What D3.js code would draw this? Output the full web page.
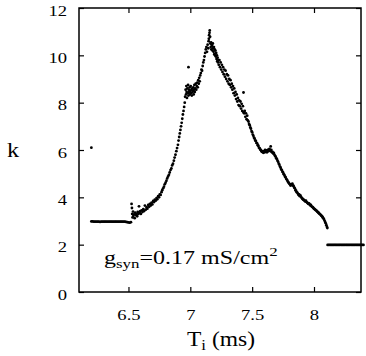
<!DOCTYPE html>
<html><head><meta charset="utf-8">
<script src="https://cdn.jsdelivr.net/npm/d3@7"></script>
<style>body{margin:0;background:#fff}svg{display:block}</style>
</head><body>
<script>
// ---- data ----
const xTicks = [6.5, 7, 7.5, 8];
const yTicks = [0, 2, 4, 6, 8, 10, 12];
const lowPlateauX = [6.20,6.21,6.22,6.23,6.24,6.25,6.26,6.27,6.28,6.29,6.30,6.31,6.32,6.33,6.34,6.35,6.36,6.37,6.38,6.39,6.40,6.41,6.42,6.43,6.44,6.45,6.46,6.47,6.48,6.49,6.50,6.51,6.52];
const lowPlateauY = [2.98,2.98,2.97,2.97,2.97,2.97,2.97,2.96,2.97,2.97,2.97,2.97,2.97,2.97,2.97,2.97,2.97,2.97,2.97,2.97,2.97,2.97,2.97,2.97,2.97,2.97,2.97,2.97,2.96,2.95,2.94,2.93,2.95];
const highPlateauX = [8.11,8.12,8.13,8.14,8.15,8.16,8.17,8.18,8.19,8.20,8.21,8.22,8.23,8.24,8.25,8.26,8.27,8.28,8.29,8.30,8.31,8.32,8.33,8.34,8.35,8.36,8.37,8.38,8.39,8.40];
const highPlateauY = [1.99,1.99,1.99,1.99,1.99,1.99,1.99,1.99,1.99,1.99,1.99,1.99,1.99,1.99,1.99,1.99,1.99,1.99,1.99,1.99,1.99,1.99,1.99,1.99,1.99,1.99,1.99,1.99,1.99,1.99];
const outlierX = [6.20, 6.985, 7.43, 7.65];
const outlierY = [6.10, 9.50, 8.43, 6.15];
const curveX = [
6.525,6.528,6.530,6.533,6.537,6.540,6.545,6.550,6.555,6.560,6.565,6.570,6.575,6.580,6.585,6.590,6.595,6.600,6.607,6.613,6.620,6.627,6.633,6.640,6.647,6.653,6.660,6.667,6.673,6.680,6.687,6.693,6.700,6.707,6.713,6.720,6.727,6.733,6.740,6.747,6.753,6.760,
6.767,6.773,6.780,6.787,6.793,6.800,6.807,6.813,6.820,6.827,6.833,6.840,6.847,6.853,6.860,6.867,6.873,6.880,6.887,6.893,6.900,6.905,6.910,6.915,6.920,6.925,6.930,6.935,6.940,6.945,6.950,6.955,
6.958,6.962,6.965,6.968,6.970,6.973,6.976,6.979,6.982,6.985,6.988,6.991,6.994,6.997,7.000,7.003,7.006,7.009,7.012,7.015,7.018,7.021,7.024,7.027,7.030,7.033,7.036,7.040,7.044,7.048,7.052,7.056,7.060,7.064,7.068,7.072,7.076,7.080,
7.085,7.090,7.095,7.100,7.105,7.110,7.115,7.120,7.125,7.130,7.135,7.140,7.145,7.148,7.150,7.152,7.155,7.157,7.160,
7.162,7.165,7.168,7.170,7.173,7.176,7.179,7.182,7.185,7.188,7.191,7.194,7.197,7.200,7.203,7.206,7.209,7.212,7.215,7.218,7.221,7.224,7.227,7.230,
7.235,7.240,7.245,7.250,7.255,7.260,7.265,7.270,7.275,7.280,7.285,7.290,7.295,7.300,7.305,7.310,7.315,7.320,7.325,7.330,7.335,7.340,7.345,7.350,7.355,7.360,7.365,7.370,7.375,7.380,7.385,7.390,7.395,7.400,7.405,7.410,7.415,7.420,7.425,7.430,7.435,7.440,7.445,7.450,7.455,7.460,7.465,7.470,7.475,7.480,7.485,7.490,7.495,7.500,7.505,7.510,7.515,7.520,7.525,7.530,7.535,7.540,7.545,7.550,7.555,7.560,7.565,7.570,7.575,7.580,7.585,7.590,7.595,7.600,7.605,7.610,7.615,7.620,7.625,7.630,7.635,7.640,7.645,7.650,7.655,7.660,7.665,7.670,7.675,7.680,7.685,7.690,7.695,7.700,7.705,7.710,7.715,7.720,7.725,7.730,7.735,7.740,7.745,7.750,7.755,7.760,7.765,7.770,7.775,7.780,7.785,7.790,7.795,7.800,7.805,7.810,7.815,7.820,7.825,7.830,7.835,7.840,7.845,7.850,7.855,7.860,7.865,7.870,7.875,7.880,7.885,7.890,7.895,7.900,7.905,7.910,7.915,7.920,7.925,7.930,7.935,7.940,7.945,7.950,7.955,7.960,7.965,7.970,7.975,7.980,7.985,7.990,7.995,8.000,8.005,8.010,8.015,8.020,8.025,8.030,8.035,8.040,8.045,8.050,8.055,8.060,8.065,8.070,8.075,8.080,8.085,8.090,8.095,8.100,8.105,8.108];
const curveY = [
3.72,3.55,3.30,3.15,3.40,3.22,3.28,3.12,3.35,3.25,3.30,3.20,3.38,3.30,3.62,3.35,3.42,3.30,3.45,3.38,3.50,3.42,3.65,3.48,3.58,3.52,3.68,3.60,3.72,3.65,3.78,3.70,3.85,3.80,3.90,3.86,3.97,3.92,4.05,4.00,4.12,4.10,
4.22,4.30,4.38,4.45,4.55,4.62,4.70,4.80,4.88,4.95,5.05,5.15,5.22,5.35,5.42,5.55,5.68,5.80,5.95,6.08,6.22,6.40,6.55,6.70,6.85,7.00,7.15,7.32,7.50,7.65,7.82,8.00,
8.25,8.55,8.35,8.70,8.45,8.20,8.60,8.40,8.75,8.30,8.55,8.45,8.65,8.35,8.50,8.70,8.40,8.55,8.30,8.60,8.45,8.50,8.65,8.35,8.55,8.75,8.45,8.60,8.80,8.55,8.70,8.85,8.65,8.95,8.80,9.05,8.90,9.15,
9.25,9.40,9.35,9.55,9.70,9.80,9.95,10.10,10.25,10.35,10.15,10.45,10.30,10.60,10.70,10.85,10.95,11.05,10.78,
10.50,10.35,10.55,10.25,10.45,10.40,10.20,10.50,10.30,10.15,10.35,10.05,10.25,10.00,10.20,9.95,10.10,9.85,10.00,9.75,9.90,9.70,9.80,9.60,
9.80,9.50,9.70,9.40,9.60,9.30,9.50,9.20,9.40,9.10,9.35,9.00,9.20,8.90,9.15,8.80,9.00,8.75,8.95,8.65,8.80,8.55,8.70,8.40,8.60,8.30,8.45,8.15,8.35,8.05,8.20,7.90,8.10,7.85,8.05,7.75,7.95,7.65,7.85,7.60,7.55,7.65,7.40,7.55,7.30,7.45,7.25,7.20,7.10,7.05,6.95,6.90,6.80,6.75,6.65,6.60,6.52,6.48,6.40,6.38,6.30,6.28,6.20,6.18,6.10,6.08,6.02,6.00,5.95,5.92,5.95,5.88,5.95,5.90,6.00,5.92,5.98,5.90,5.95,6.02,5.96,6.05,5.98,5.95,6.00,5.90,5.92,5.85,5.88,5.80,5.75,5.72,5.65,5.62,5.55,5.50,5.42,5.38,5.30,5.25,5.18,5.15,5.08,5.05,4.98,4.95,4.88,4.85,4.78,4.75,4.70,4.65,4.62,4.58,4.55,4.50,4.55,4.52,4.58,4.50,4.48,4.42,4.38,4.30,4.28,4.22,4.20,4.15,4.10,4.12,4.05,4.08,4.02,3.98,3.95,3.92,3.90,3.88,3.85,3.82,3.86,3.80,3.78,3.75,3.72,3.74,3.70,3.66,3.68,3.62,3.60,3.58,3.55,3.52,3.50,3.48,3.45,3.44,3.40,3.38,3.36,3.33,3.30,3.28,3.25,3.22,3.20,3.16,3.12,3.08,3.02,2.96,2.90,2.82,2.75,2.70];

// ---- layout ----
const W = 366, H = 356;
const L = 79, R = 361, T = 8, B = 292;
const FONT = "'Liberation Serif','Times New Roman',serif";
const SX = 1.2;

const x = d3.scaleLinear().domain([6.1, 8.38]).range([L, R]);
const y = d3.scaleLinear().domain([0, 12]).range([B, T]);

const svg = d3.select("body").append("svg").attr("width", W).attr("height", H);

// dots
const pts = [];
const add = (xs, ys) => xs.forEach((v, i) => pts.push([v, ys[i]]));
add(lowPlateauX, lowPlateauY);
add(curveX, curveY);
add(highPlateauX, highPlateauY);
add(outlierX, outlierY);
svg.append("g").selectAll("circle").data(pts).join("circle")
  .attr("cx", d => x(d[0])).attr("cy", d => y(d[1])).attr("r", 1.4).attr("fill", "#000");

// axes (inward ticks on all four sides)
function styleAxis(g) {
  g.select(".domain").remove();
  g.selectAll(".tick line").attr("stroke", "#000").attr("stroke-width", 1.2);
}
const gB = svg.append("g").attr("transform", `translate(0,${B})`)
  .call(d3.axisBottom(x).tickValues(xTicks).tickSize(-5).tickPadding(0).tickFormat(d3.format("")));
styleAxis(gB);
gB.selectAll(".tick text").attr("y", null).attr("dy", null)
  .attr("transform", `translate(0,28) scale(${SX},1)`)
  .attr("font-family", FONT).attr("font-size", 15.5).attr("fill", "#000").attr("text-anchor", "middle");

const gT = svg.append("g").attr("transform", `translate(0,${T})`)
  .call(d3.axisTop(x).tickValues(xTicks).tickSize(-5).tickFormat(""));
styleAxis(gT);

const gL = svg.append("g").attr("transform", `translate(${L},0)`)
  .call(d3.axisLeft(y).tickValues(yTicks).tickSize(-5).tickPadding(0).tickFormat(d3.format("")));
styleAxis(gL);
gL.selectAll(".tick text").attr("x", null).attr("dy", null)
  .attr("transform", `translate(-12,7) scale(${SX},1)`)
  .attr("font-family", FONT).attr("font-size", 15.5).attr("fill", "#000").attr("text-anchor", "end");

const gR = svg.append("g").attr("transform", `translate(${R},0)`)
  .call(d3.axisRight(y).tickValues(yTicks).tickSize(-5).tickFormat(""));
styleAxis(gR);

// frame
svg.append("rect").attr("x", L).attr("y", T).attr("width", R - L).attr("height", B - T)
  .attr("fill", "none").attr("stroke", "#000").attr("stroke-width", 1.5);

// axis titles
const xt = svg.append("text").attr("transform", `translate(221,346) scale(1.12,1)`)
  .attr("font-family", FONT).attr("font-size", 21).attr("text-anchor", "middle").attr("fill", "#000");
xt.append("tspan").text("T");
xt.append("tspan").attr("font-size", 15).attr("dy", 4).text("i");
xt.append("tspan").attr("dy", -4).text(" (ms)");

svg.append("text").attr("transform", `translate(13,157) scale(1.15,1)`)
  .attr("font-family", FONT).attr("font-size", 21).attr("text-anchor", "middle").attr("fill", "#000").text("k");

// annotation
const an = svg.append("text").attr("transform", `translate(104,264) scale(1.3,1)`)
  .attr("font-family", FONT).attr("font-size", 18.5).attr("fill", "#000");
an.append("tspan").text("g");
an.append("tspan").attr("font-size", 13).attr("dy", 4).text("syn");
an.append("tspan").attr("dy", -4).text("=0.17 mS/cm");
an.append("tspan").attr("font-size", 13).attr("dy", -8).text("2");
</script>
</body></html>
